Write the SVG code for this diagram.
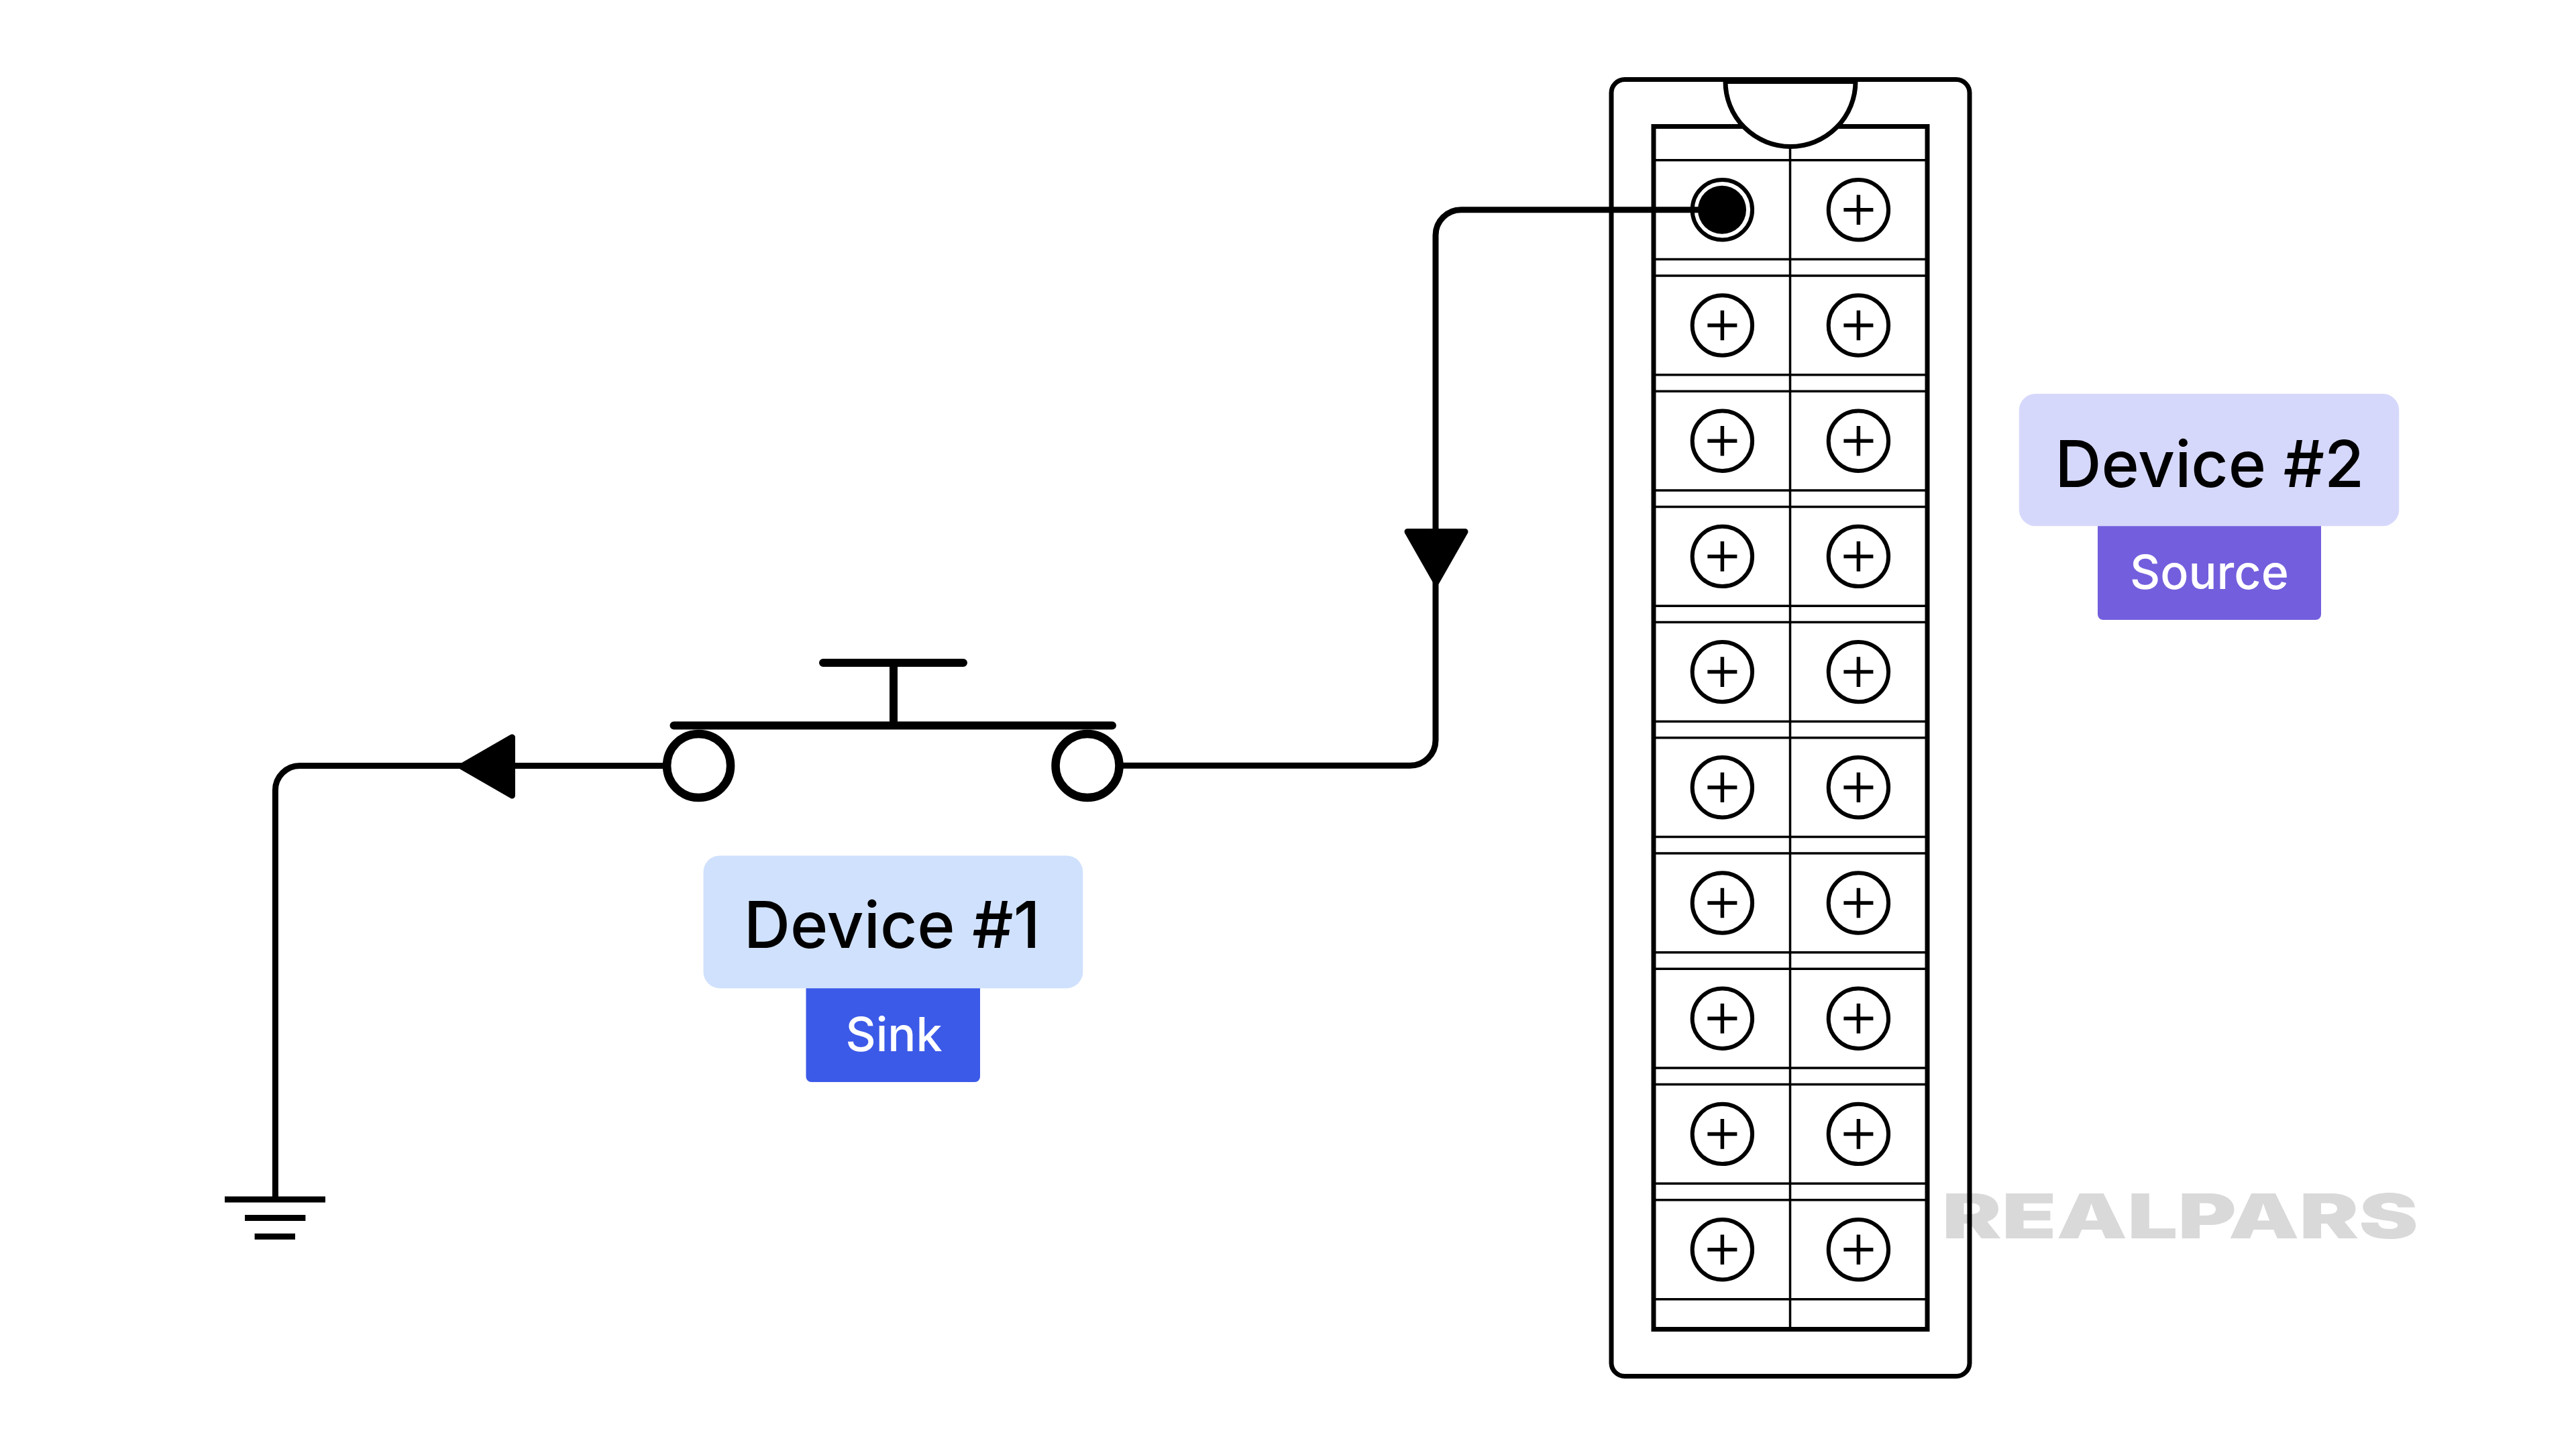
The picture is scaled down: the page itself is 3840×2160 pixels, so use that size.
<svg xmlns="http://www.w3.org/2000/svg" xmlns:xlink="http://www.w3.org/1999/xlink" width="3840" height="2160" viewBox="0 0 3840 2160">
<style>
text{font-family:Inter,"Liberation Sans",sans-serif;text-anchor:middle;font-weight:500}
.title{font-size:96px;fill:#000}
.tag{font-size:70px;fill:#fff}
.wm{font-family:Inter,"Liberation Sans",sans-serif;font-size:92px;font-weight:900;fill:#d9d9d9}
.wire{fill:none;stroke:#000;stroke-width:9}
.thick{fill:none;stroke:#000;stroke-width:7}
.thin{fill:none;stroke:#000;stroke-width:3.5}
.bar{fill:none;stroke:#000;stroke-width:12;stroke-linecap:round}
.ring{fill:#fff;stroke:#000;stroke-width:12.5}
.gnd{fill:none;stroke:#000;stroke-width:9}
.arrow{fill:#000;stroke:#000;stroke-width:9;stroke-linejoin:round}
.scr{fill:none;stroke:#000;stroke-width:6}
.pls{fill:none;stroke:#000;stroke-width:5.500}
</style>
<defs>
<g id="screw"><circle class="scr" r="44.7"/><path class="pls" d="M-22 0H22M0-22.3V22.3"/></g>
</defs>
<rect width="3840" height="2160" fill="#fff"/>
<text id="watermark" class="wm" x="3250" y="1846" textLength="710" lengthAdjust="spacingAndGlyphs">REALPARS</text>
<g id="terminal-block">
<rect class="thick" x="2402" y="118.500" width="534" height="1933" rx="20"/>
<rect class="thick" x="2465" y="188.500" width="408" height="1793"/>
<path class="thin" d="M2465 238.800H2873M2465 386.600H2873M2465 411H2873M2465 558.800H2873M2465 583.200H2873M2465 731H2873M2465 755.400H2873M2465 903.200H2873M2465 927.600H2873M2465 1075.400H2873M2465 1099.800H2873M2465 1247.600H2873M2465 1272H2873M2465 1419.800H2873M2465 1444.200H2873M2465 1592H2873M2465 1616.400H2873M2465 1764.200H2873M2465 1788.800H2873M2465 1936.800H2873M2668.500 218V1981"/>
<path d="M2572 121.500H2766A97 97 0 0 1 2572 121.500Z" fill="#fff" stroke="#000" stroke-width="7"/>
<g id="screws">
<use href="#screw" x="2770.400" y="312.800"/>
<use href="#screw" x="2567.400" y="485"/><use href="#screw" x="2770.400" y="485"/>
<use href="#screw" x="2567.400" y="657.200"/><use href="#screw" x="2770.400" y="657.200"/>
<use href="#screw" x="2567.400" y="829.400"/><use href="#screw" x="2770.400" y="829.400"/>
<use href="#screw" x="2567.400" y="1001.600"/><use href="#screw" x="2770.400" y="1001.600"/>
<use href="#screw" x="2567.400" y="1173.800"/><use href="#screw" x="2770.400" y="1173.800"/>
<use href="#screw" x="2567.400" y="1346"/><use href="#screw" x="2770.400" y="1346"/>
<use href="#screw" x="2567.400" y="1518.200"/><use href="#screw" x="2770.400" y="1518.200"/>
<use href="#screw" x="2567.400" y="1690.400"/><use href="#screw" x="2770.400" y="1690.400"/>
<use href="#screw" x="2567.400" y="1862.800"/><use href="#screw" x="2770.400" y="1862.800"/>
</g>
<circle class="scr" cx="2567.400" cy="312.800" r="44.700"/>
</g>
<g id="connectors">
<path class="wire" d="M2567 312.700H2178A38 38 0 0 0 2140 350.700V1103.300A38 38 0 0 1 2102 1141.300H1621"/>
<path class="wire" d="M1041.600 1141.500H447A36.500 36.500 0 0 0 410.400 1178V1788"/>
<polygon class="arrow" points="2098,792.500 2184,792.500 2141,868"/>
<polygon class="arrow" points="763.500,1099 763.500,1186 688,1142.500"/>
</g>
<circle id="terminal-active" cx="2567" cy="312.700" r="36" fill="#000"/>
<g id="push-button">
<path class="bar" d="M1227 988H1436M1332 988V1081M1004.500 1081.500H1658"/>
<circle class="ring" cx="1041.600" cy="1141.500" r="47.500"/>
<circle class="ring" cx="1621" cy="1141.500" r="47.500"/>
</g>
<g id="ground">
<path class="gnd" d="M335 1788H485M365 1815.500H455.400M379.600 1843.300H440"/>
</g>
<g id="device-1">
<path fill="#3c5ae8" d="M1201.500 1460H1461V1605a8 8 0 0 1-8 8H1209.500a8 8 0 0 1-8-8Z"/>
<rect x="1048.500" y="1275.400" width="565.800" height="197.800" rx="24.500" fill="#d0e1fd"/>
<text class="title" x="1329.600" y="1413">Device #1</text>
<text class="tag" x="1332.500" y="1567">Sink</text>
</g>
<g id="device-2">
<path fill="#735fdd" d="M3127 770H3460V916a8 8 0 0 1-8 8H3135a8 8 0 0 1-8-8Z"/>
<rect x="3009.800" y="587" width="566.500" height="197.300" rx="24.500" fill="#d6d8fb"/>
<text class="title" x="3293.700" y="726">Device #2</text>
<text class="tag" x="3293.400" y="878">Source</text>
</g>
</svg>
